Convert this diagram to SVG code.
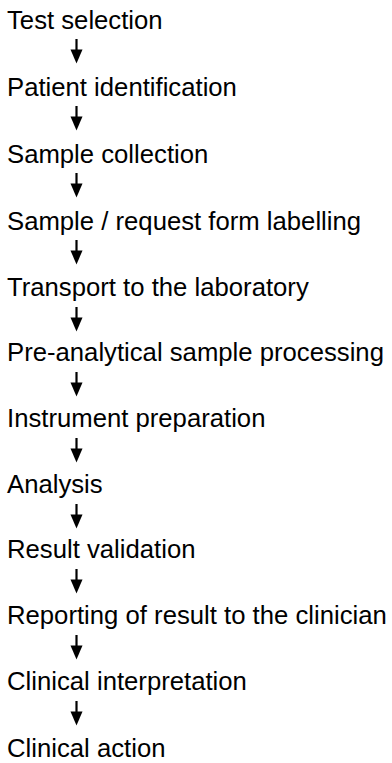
<svg xmlns="http://www.w3.org/2000/svg" width="392" height="763" viewBox="0 0 392 763">
<style>
text{font-family:"Liberation Sans",Arial,sans-serif;font-size:25.7px;fill:#000}
.sh{stroke:#000;stroke-width:2.2}
</style>
<defs>
<g id="arr"><line class="sh" x1="76.5" y1="0" x2="76.5" y2="12"/><polygon points="70.5,10.5 82.5,10.5 76.5,24.5" fill="#000"/></g>
</defs>
<rect width="392" height="763" fill="#fff"/>
<g id="connectors">
<use href="#arr" y="39"/>
<use href="#arr" y="106"/>
<use href="#arr" y="173"/>
<use href="#arr" y="240"/>
<use href="#arr" y="307"/>
<use href="#arr" y="372"/>
<use href="#arr" y="438"/>
<use href="#arr" y="504"/>
<use href="#arr" y="569"/>
<use href="#arr" y="635"/>
<use href="#arr" y="701"/>
</g>
<g id="n1"><text x="7" y="28.5">Test selection</text></g>
<g id="n2"><text x="7" y="95.5">Patient identification</text></g>
<g id="n3"><text x="7" y="162.5">Sample collection</text></g>
<g id="n4"><text x="7" y="229.5">Sample / request form labelling</text></g>
<g id="n5"><text x="7" y="296">Transport to the laboratory</text></g>
<g id="n6"><text x="7" y="361">Pre-analytical sample processing</text></g>
<g id="n7"><text x="7" y="427">Instrument preparation</text></g>
<g id="n8"><text x="7" y="493">Analysis</text></g>
<g id="n9"><text x="7" y="558">Result validation</text></g>
<g id="n10"><text x="7" y="624">Reporting of result to the clinician</text></g>
<g id="n11"><text x="7" y="690">Clinical interpretation</text></g>
<g id="n12"><text x="7" y="757">Clinical action</text></g>
</svg>
